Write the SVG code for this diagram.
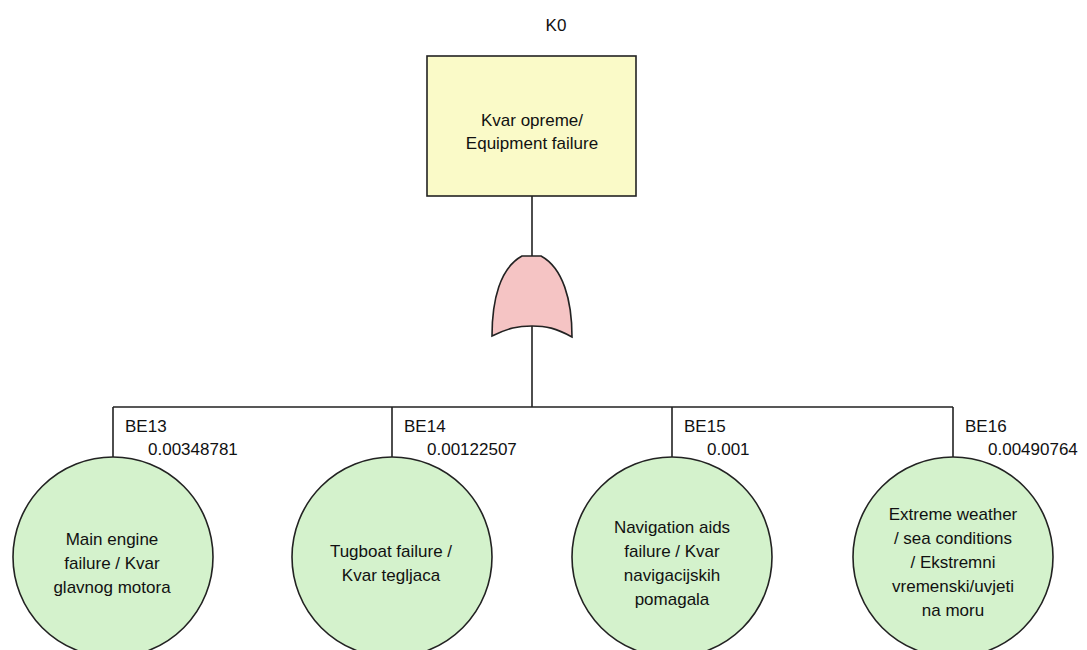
<svg xmlns="http://www.w3.org/2000/svg" width="1087" height="650" viewBox="0 0 1087 650">
<style>
text{font-family:"Liberation Sans",Arial,sans-serif;font-size:17px;fill:#111}
.c{text-anchor:middle}
.ln{stroke:#222;stroke-width:1.6;fill:none}
.ev{fill:#d4f2cc;stroke:#222;stroke-width:1.6}
</style>
<rect width="1087" height="650" fill="#fff"/>
<g id="connectors">
<path class="ln" d="M532 196V256M532 326V407M113 407H953M113 407V457M392 407V457M672 407V457M953 407V457"/>
</g>
<g id="K0">
<text x="556" y="31" class="c">K0</text>
<rect x="427" y="56" width="209" height="140" fill="#fafac8" stroke="#222" stroke-width="1.6"/>
<text x="532" y="126" class="c">Kvar opreme/</text>
<text x="532" y="149" class="c">Equipment failure</text>
</g>
<g id="OR">
<path d="M522 256H541C563 268 572 300 572 337C556 328 546 326 532 326C518 326 508 328 492 336C492 300 500 268 522 256Z" fill="#f5c4c4" stroke="#222" stroke-width="1.6"/>
</g>
<g id="BE13">
<circle class="ev" cx="113" cy="557" r="100"/>
<text x="125" y="432">BE13</text>
<text x="148" y="455">0.00348781</text>
<text class="c" x="112" y="545">Main engine</text>
<text class="c" x="112" y="569">failure / Kvar</text>
<text class="c" x="112" y="593">glavnog motora</text>
</g>
<g id="BE14">
<circle class="ev" cx="392" cy="557" r="100"/>
<text x="404" y="432">BE14</text>
<text x="427" y="455">0.00122507</text>
<text class="c" x="391" y="557">Tugboat failure /</text>
<text class="c" x="391" y="581">Kvar tegljaca</text>
</g>
<g id="BE15">
<circle class="ev" cx="672" cy="557" r="100"/>
<text x="684" y="432">BE15</text>
<text x="707" y="455">0.001</text>
<text class="c" x="672" y="533">Navigation aids</text>
<text class="c" x="672" y="557">failure / Kvar</text>
<text class="c" x="672" y="581">navigacijskih</text>
<text class="c" x="672" y="605">pomagala</text>
</g>
<g id="BE16">
<circle class="ev" cx="953" cy="557" r="100"/>
<text x="965" y="432">BE16</text>
<text x="988" y="455">0.00490764</text>
<text class="c" x="953" y="520">Extreme weather</text>
<text class="c" x="953" y="544">/ sea conditions</text>
<text class="c" x="953" y="568">/ Ekstremni</text>
<text class="c" x="953" y="592">vremenski/uvjeti</text>
<text class="c" x="953" y="616">na moru</text>
</g>
</svg>
